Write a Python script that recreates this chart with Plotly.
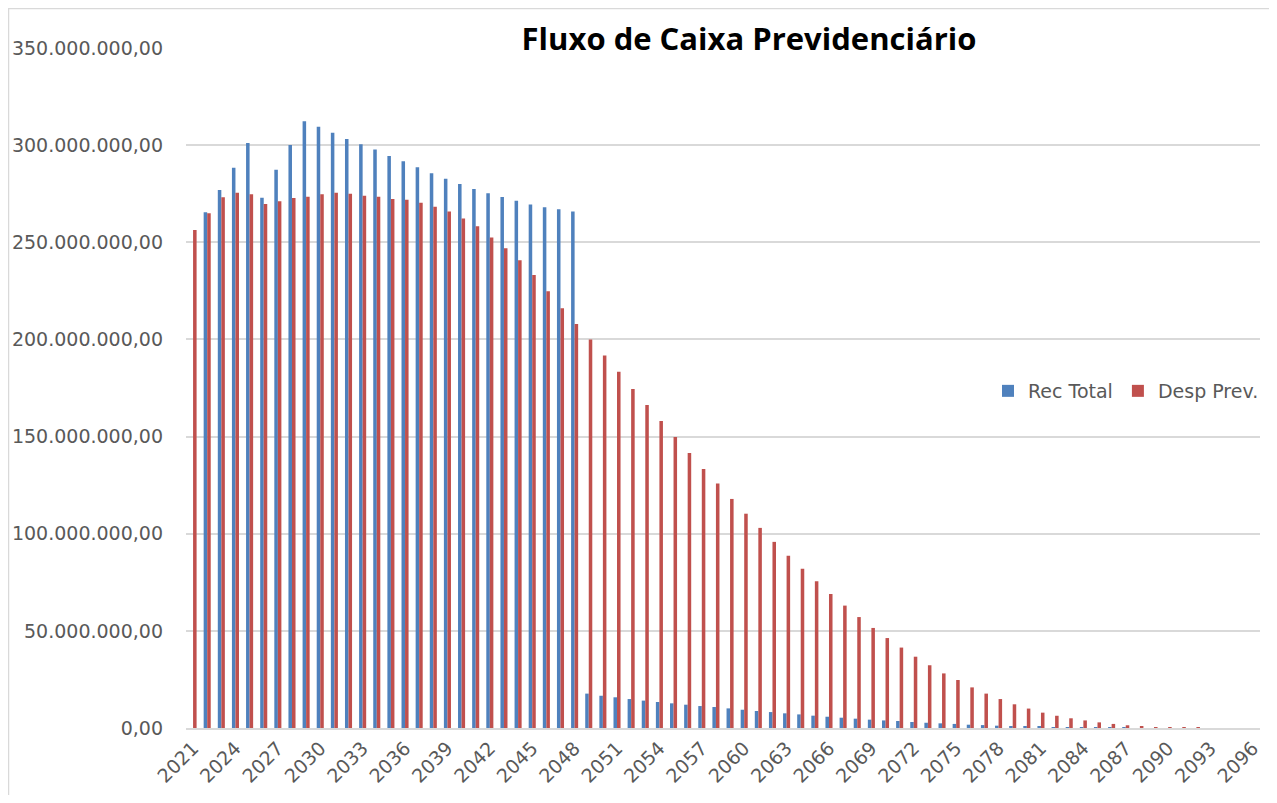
import plotly.graph_objects as go

years = [str(y) for y in range(2021, 2097)]

rec_total = [
    None, 265.4, 276.9, 288.4, 301.1, 272.9, 287.3, 300.1, 312.3, 309.5,
    306.4, 303.2, 300.4, 297.7, 294.4, 291.7, 288.6, 285.5, 282.7, 280.0,
    277.4, 275.2, 273.3, 271.4, 269.5, 268.0, 267.0, 265.9, 17.7, 16.6,
    15.8, 14.9, 14.1, 13.4, 12.7, 12.0, 11.3, 10.8, 10.1, 9.4,
    8.75, 8.2, 7.55, 7.0, 6.35, 5.8, 5.3, 4.8, 4.3, 3.9,
    3.6, 3.1, 2.7, 2.4, 2.1, 1.7, 1.5, 1.2, 1.0, 0.8,
    0.6, 0.4, 0.3, 0.2, 0.1, 0.05, 0.02, 0.0, 0.0, 0.0,
    0.0, 0.0, 0.0, 0.0, 0.0, 0.0,
]

desp_prev = [
    256.3, 265.0, 273.2, 275.5, 274.7, 269.7, 271.1, 272.8, 273.5, 274.7,
    275.5, 275.0, 274.0, 273.5, 272.3, 271.9, 270.4, 268.3, 265.9, 262.3,
    258.2, 252.4, 246.9, 240.7, 233.2, 224.8, 216.1, 207.9, 199.9, 191.7,
    183.3, 174.5, 166.3, 158.0, 149.8, 141.6, 133.3, 125.8, 117.9, 110.3,
    103.0, 95.8, 88.7, 82.0, 75.5, 69.0, 63.0, 57.1, 51.5, 46.3,
    41.4, 36.7, 32.3, 28.1, 24.7, 20.9, 17.7, 14.9, 12.2, 10.0,
    7.9, 6.3, 5.0, 3.9, 2.9, 2.1, 1.4, 0.9, 0.5, 0.35,
    0.2, 0.1, 0.0, 0.0, 0.0, 0.0,
]

scale = 1_000_000
rec_vals = [None if v is None else v * scale for v in rec_total]
desp_vals = [v * scale for v in desp_prev]

tick_years = years[::3]
y_ticks = [0, 50e6, 100e6, 150e6, 200e6, 250e6, 300e6, 350e6]

fig = go.Figure()
fig.add_trace(go.Bar(x=years, y=rec_vals, name="Rec Total",
                     marker=dict(color="#4F81BD", line=dict(width=0))))
fig.add_trace(go.Bar(x=years, y=desp_vals, name="Desp Prev.",
                     marker=dict(color="#C0504D", line=dict(width=0))))

# page body has an 8px margin; work in figure coordinates
OFF = 8
W, H = 1261, 787
L, T = 186 - OFF, 48 - OFF
R = W - (1260 - OFF)
B = H - (728 - OFF)
pw, ph = W - L - R, H - T - B


def px_x(p):
    return (p - OFF - L) / pw


def px_y(p):
    return (H - B - (p - OFF)) / ph


fig.update_layout(
    width=W, height=H,
    margin=dict(l=L, r=R, t=T, b=B, autoexpand=False),
    paper_bgcolor="white", plot_bgcolor="white",
    separators=",.",
    barmode="group", bargap=0.5, bargroupgap=0.0,
    font=dict(family="DejaVu Sans", size=19, color="#595959"),
    title=dict(text="<b>Fluxo de Caixa Previdenciário</b>",
               font=dict(family="Open Sans", size=31, color="black"),
               x=(749 - OFF) / W, xanchor="center",
               y=1 - (39 - OFF) / H, yanchor="middle"),
    legend=dict(orientation="h", x=px_x(988), xanchor="left",
                y=px_y(391), yanchor="middle",
                font=dict(family="DejaVu Sans", size=19, color="#595959"),
                bgcolor="rgba(0,0,0,0)", traceorder="normal"),
    xaxis=dict(type="category", tickmode="array", tickvals=tick_years,
               ticktext=tick_years, tickangle=-45, showgrid=False,
               showline=True, linecolor="#D9D9D9", linewidth=1.5,
               ticks="", automargin=False,
               tickfont=dict(size=19, color="#595959")),
    yaxis=dict(range=[0, 350e6], tickmode="array", tickvals=y_ticks,
               tickformat=",.2f", showgrid=True, gridcolor="#D9D9D9",
               gridwidth=1.5, zeroline=False, showline=False,
               ticklabelstandoff=22, automargin=False,
               tickfont=dict(size=19, color="#595959")),
    shapes=[dict(type="rect", xref="paper", yref="paper",
                 x0=px_x(8.5), x1=px_x(1300), y0=px_y(8.5), y1=px_y(830),
                 line=dict(color="#D9D9D9", width=1.5), layer="below")],
)

fig.write_html("out.html")
